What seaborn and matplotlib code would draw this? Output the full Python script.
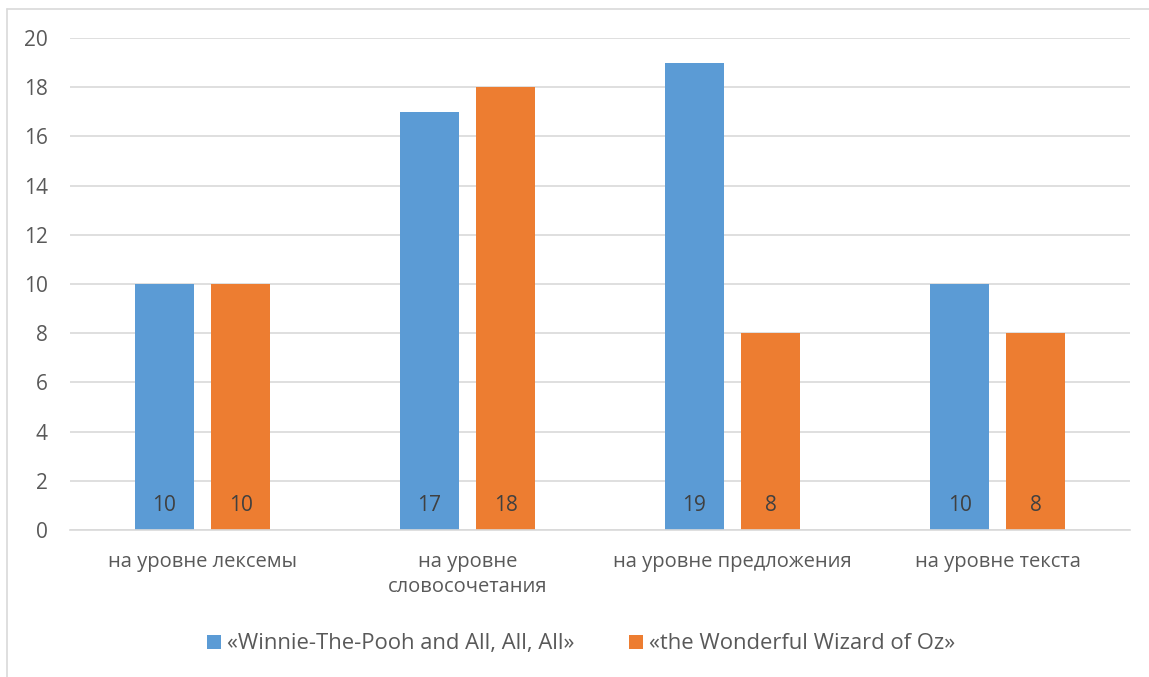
import matplotlib
matplotlib.use("Agg")
import matplotlib.pyplot as plt
from matplotlib.lines import Line2D
from matplotlib.patches import Patch
import seaborn as sns
import pandas as pd

categories = ["на уровне лексемы", "на уровне\nсловосочетания",
              "на уровне предложения", "на уровне текста"]
series_names = ["«Winnie-The-Pooh and All, All, All»", "«the Wonderful Wizard of Oz»"]
pooh_values = [10, 17, 19, 10]
oz_values = [10, 18, 8, 8]
y_ticks = [0, 2, 4, 6, 8, 10, 12, 14, 16, 18, 20]

colors = ["#5B9BD5", "#ED7D31"]
text_color = "#595959"
grid_color = "#D9D9D9"

df = pd.DataFrame({
    "category": categories * 2,
    "series": [series_names[0]] * 4 + [series_names[1]] * 4,
    "value": pooh_values + oz_values,
})

sns.set_theme(style="white")
plt.rcParams["font.family"] = ["Open Sans", "DejaVu Sans"]

fig = plt.figure(figsize=(11.49, 6.77), dpi=100)
ax = fig.add_axes([0.0609, 0.2171, 0.9226, 0.7268])

sns.barplot(data=df, x="category", y="value", hue="series", order=categories,
            hue_order=series_names, palette=colors, width=0.574, gap=0.22,
            saturation=1, ax=ax, legend=False, linewidth=0)

ax.set_ylim(0, 20)
ax.set_yticks(y_ticks)
ax.set_xlim(-0.5, len(categories) - 0.5)
ax.yaxis.grid(True, color=grid_color, linewidth=1.2)
ax.set_axisbelow(True)
for side in ["left", "right", "top"]:
    ax.spines[side].set_visible(False)
ax.spines["bottom"].set_color(grid_color)
ax.spines["bottom"].set_linewidth(1.2)
ax.tick_params(axis="y", length=0, pad=16, labelsize=15, labelcolor=text_color)
ax.tick_params(axis="x", length=0, pad=16, labelsize=14.5, labelcolor=text_color)
for lbl in ax.get_xticklabels():
    lbl.set_linespacing(1.35)
ax.set_xlabel("")
ax.set_ylabel("")

# value labels near the base of every bar
for container in ax.containers:
    for bar in container:
        h = bar.get_height()
        ax.text(bar.get_x() + bar.get_width() / 2, 1.0, f"{h:g}",
                ha="center", va="center", fontsize=15, color="#404040")

handles = [Patch(facecolor=c, edgecolor="none") for c in colors]
fig.legend(handles, series_names, loc="center", bbox_to_anchor=(0.506, 0.049),
           ncol=2, frameon=False, fontsize=15.8, labelcolor=text_color,
           handlelength=0.6, handleheight=0.6, handletextpad=0.3, columnspacing=2.5)

# outer chart frame (top and left edges)
fig.add_artist(Line2D([7 / 1149, 1], [1 - 9 / 677, 1 - 9 / 677],
                      transform=fig.transFigure, color=grid_color, linewidth=1.2))
fig.add_artist(Line2D([7 / 1149, 7 / 1149], [0, 1 - 9 / 677],
                      transform=fig.transFigure, color=grid_color, linewidth=1.2))

fig.savefig("out.png", dpi=100, facecolor="white")
